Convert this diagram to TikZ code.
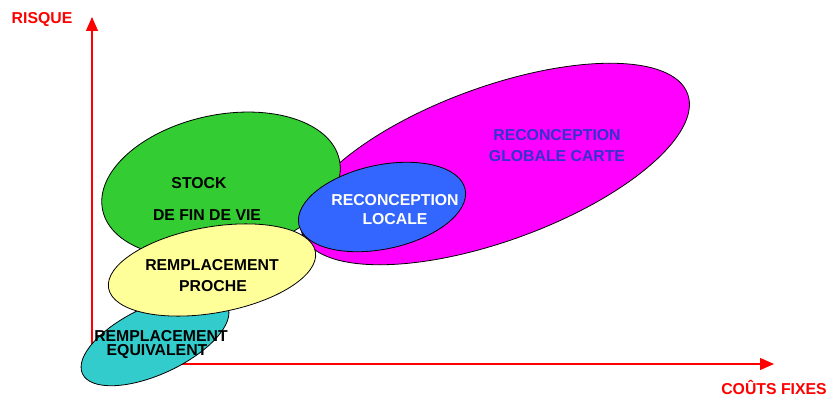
\documentclass[tikz,border=0pt]{standalone}
\usepackage{fontspec}
\setmainfont{Liberation Sans}
\usetikzlibrary{arrows.meta}
\definecolor{axisred}{HTML}{FF0000}
\definecolor{zonemagenta}{HTML}{FF00FF}
\definecolor{zonegreen}{HTML}{33CC33}
\definecolor{zoneblue}{HTML}{3366FF}
\definecolor{zoneyellow}{HTML}{FFFF99}
\definecolor{zonecyan}{HTML}{33CCCC}
\definecolor{labelblue}{HTML}{3333CC}
\tikzset{
  axis/.style={draw=axisred, line width=1.2pt, -{Triangle[length=14pt,width=12pt]}},
  zone/.style={draw=black, line width=0.8pt},
  lbl/.style={font=\fontsize{15.8}{18}\selectfont\bfseries, inner sep=0pt, align=center},
  axislbl/.style={lbl, text=axisred},
}
\begin{document}
\begin{tikzpicture}[x=1pt,y=-1pt]
  \useasboundingbox (0,0) rectangle (833,396);
  % axes
  \coordinate (origin) at (92,364);
  \coordinate (ytip) at (92,17);
  \coordinate (xtip) at (774,364);
  \draw[axis] (origin) -- (ytip);
  \draw[axis] (origin) -- (xtip);
  \node[axislbl] (risque) at (42,20) {RISQUE};
  \node[axislbl] (couts) at (774,387) {COÛTS FIXES};
  % zones
  \filldraw[zone, fill=zonemagenta, rotate around={20:(495,164)}]
    (495,164) ellipse [x radius=205pt, y radius=77pt];
  \filldraw[zone, fill=zonegreen, rotate around={12:(221,185)}]
    (221,185) ellipse [x radius=121pt, y radius=70pt];
  \filldraw[zone, fill=zoneblue, rotate around={12:(382,207)}]
    (382,207) ellipse [x radius=85pt, y radius=42pt];
  \filldraw[zone, fill=zonecyan, rotate around={25:(155,340)}]
    (155,340) ellipse [x radius=80pt, y radius=34pt];
  \filldraw[zone, fill=zoneyellow, rotate around={10:(212,270)}]
    (212,270) ellipse [x radius=105pt, y radius=43pt];
  % labels
  \node[lbl] (stock) at (199,183) {STOCK};
  \node[lbl] (finvie) at (207,215) {DE FIN DE VIE};
  \node[lbl] (rproche) at (212,265) {REMPLACEMENT};
  \node[lbl] (proche) at (213,286) {PROCHE};
  \node[lbl] (requiv) at (161,336) {REMPLACEMENT};
  \node[lbl] (equiv) at (157,352) {EQUIVALENT};
  \node[lbl, text=white] (rlocale) at (395,200) {RECONCEPTION};
  \node[lbl, text=white] (locale) at (395,219) {LOCALE};
  \node[lbl, text=labelblue] (rglobale) at (557,135) {RECONCEPTION};
  \node[lbl, text=labelblue] (globale) at (557,156) {GLOBALE CARTE};
\end{tikzpicture}
\end{document}
